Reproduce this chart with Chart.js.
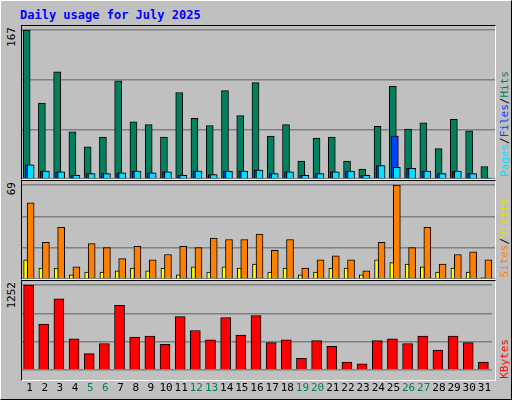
<!DOCTYPE html>
<html><head><meta charset="utf-8">
<script src="https://cdn.jsdelivr.net/npm/chart.js@4"></script>
<style>
body{margin:0;background:#c0c0c0;}
#wrap{position:relative;width:510px;height:398px;border:1px solid #fff;border-right-color:#000;border-bottom-color:#000;background:#c0c0c0;font-family:"DejaVu Sans Mono",monospace;}
.panel{position:absolute;left:20px;width:473px;border:1px solid #fff;border-top-color:#000;border-left-color:#000;}
.panel canvas{display:block;}
#title{position:absolute;left:19px;top:7px;color:#0000ff;font-weight:bold;font-size:12px;}
.ymax{position:absolute;left:4px;font-size:11px;writing-mode:vertical-rl;transform:rotate(180deg);}
.rlab{position:absolute;left:497px;font-size:11px;writing-mode:vertical-rl;transform:rotate(180deg);white-space:nowrap;}
</style></head><body>
<div id="wrap">
<div id="title">Daily usage for July 2025</div>
<div class="panel" style="top:24px;height:153px"><canvas id="c1" width="473" height="153"></canvas></div>
<div class="panel" style="top:179px;height:98px"><canvas id="c2" width="473" height="98"></canvas></div>
<div class="panel" style="top:279px;height:99px;"><canvas id="c3" width="473" height="118"></canvas></div>
<div class="ymax" style="top:26px">167</div>
<div class="ymax" style="top:181px">69</div>
<div class="ymax" style="top:281px">1252</div>
<div class="rlab" style="bottom:222px"><span style="color:#00e0ff">Pages</span><span style="color:#000">/</span><span style="color:#0040ff">Files</span><span style="color:#000">/</span><span style="color:#00805c">Hits</span></div>
<div class="rlab" style="bottom:122px"><span style="color:#ff8000">Sites</span><span style="color:#000">/</span><span style="color:#e0e000">Visits</span></div>
<div class="rlab" style="bottom:20px;color:#ff0000">KBytes</div>
</div>
<script>
const days = Array.from({length: 31}, (_, i) => String(i + 1));
const weekends = ['5','6','12','13','19','20','26','27'];
const hits = [167,85,120,53,36,47,110,64,61,47,97,68,60,99,71,108,48,61,20,46,47,20,11,59,104,56,63,34,67,54,14];
const files = [16,9,8,4,6,6,7,9,7,8,4,9,5,9,9,10,6,8,4,6,8,9,4,15,48,12,9,6,9,6,1];
const pages = [16,9,8,4,6,6,7,9,7,8,4,9,5,9,9,10,6,8,4,6,8,9,4,15,13,12,9,6,9,6,1];
const visits = [56,27,38,9,26,23,15,24,14,18,24,23,30,29,29,33,21,29,8,14,17,14,6,27,69,23,38,11,18,20,14];
const sites = [14,8,8,3,5,5,6,8,6,8,3,9,5,9,8,11,5,8,3,5,8,8,3,14,12,11,9,5,8,5,1];
const kbytes = [1252,676,1047,457,238,388,951,484,498,375,786,580,443,772,512,800,402,443,169,430,347,114,87,430,457,388,498,292,498,402,114];

// nudge each dataset sideways so the bars overlap like the original
const shiftBars = {
    id: 'shiftBars',
    afterDatasetsUpdate(chart) {
        chart.data.datasets.forEach((ds, i) => {
            chart.getDatasetMeta(i).data.forEach(el => { el.x += ds.shift || 0; });
        });
    }
};

function bar(label, data, color, width, shift, order) {
    return { label, data, backgroundColor: color, borderColor: '#000', borderWidth: 1,
             barThickness: width, grouped: false, shift, order, borderSkipped: 'bottom' };
}

function makeChart(id, datasets, max, showX) {
    new Chart(document.getElementById(id), {
        type: 'bar',
        data: { labels: days, datasets },
        plugins: [shiftBars],
        options: {
            responsive: false, animation: false,
            layout: { padding: { top: 4, left: 0, right: 0, bottom: 0 } },
            plugins: { legend: { display: false }, tooltip: { enabled: false } },
            scales: {
                x: {
                    display: showX,
                    grid: { display: false },
                    border: { display: false },
                    ticks: {
                        font: { family: 'DejaVu Sans Mono', size: 11 },
                        color: ctx => weekends.includes(days[ctx.index]) ? '#00805c' : '#000',
                        maxRotation: 0, autoSkip: false, padding: 4
                    }
                },
                y: {
                    min: 0, max,
                    ticks: { display: false, stepSize: max / 3 },
                    grid: { color: '#808080', drawTicks: false, lineWidth: 1.5 },
                    border: { display: false }
                }
            }
        }
    });
}

makeChart('c1', [
    bar('Hits', hits, '#00805c', 7, -3, 3),
    bar('Files', files, '#0040ff', 7, -1, 2),
    bar('Pages', pages, '#00e0ff', 7, 1, 1)
], 167, false);
makeChart('c2', [
    bar('Visits', visits, '#ff8000', 7, 1, 2),
    bar('Sites', sites, '#ffff00', 4, -4, 1)
], 69, false);
makeChart('c3', [
    bar('KBytes', kbytes, '#ff0000', 10, -1, 1)
], 1252, true);
</script>
</body></html>
